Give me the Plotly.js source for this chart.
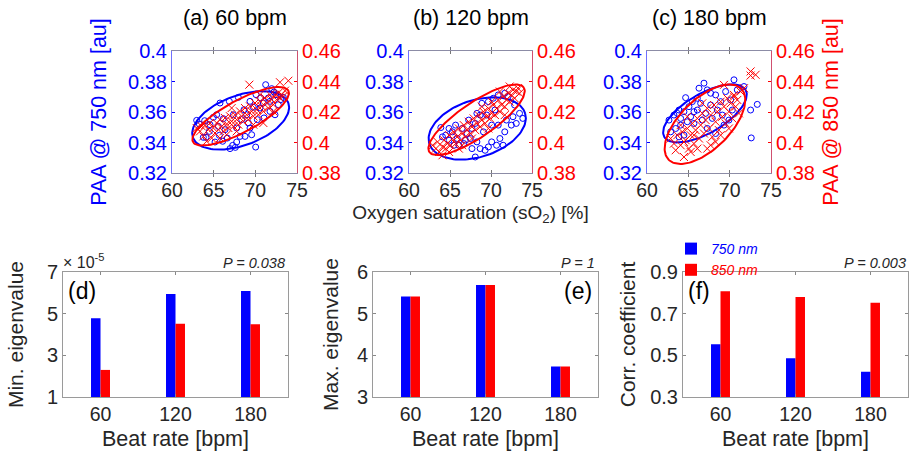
<!DOCTYPE html>
<html><head><meta charset="utf-8">
<script src="https://cdn.plot.ly/plotly-3.0.1.min.js"></script>
<style>html,body{margin:0;padding:0;background:#fff}#chart{width:911px;height:456px}</style>
</head><body><div id="chart"></div>
<script>
// ---------- top row: PAA vs sO2 scatter (a) 60 bpm, (b) 120 bpm, (c) 180 bpm ----------
const a750x = [62.96,63.92,64.96,65.76,66.88,67.96,69.36,70.08,71.24,71.96,72.48,73.04,73.36,71.56,69.76,70.24,68.76,67.76,67.28,66.96,67.6,70.04,69.56,66.64,66.08,65.68,64.48,64.08,65.16,66.36,67.76,68.36,68.96,70.56,71.76,72.36,71.04,69.36,63.76,63.28,65.36,66.16,67.36,68.64,70.64,71.76,72.24,64.56,65.56,68.16,69.16,70.96,72.76];
const a750y = [0.3545,0.3543,0.3565,0.3659,0.3670,0.3696,0.3670,0.3714,0.3779,0.3753,0.3714,0.3681,0.3696,0.3692,0.3631,0.3550,0.3440,0.3403,0.3381,0.3360,0.3368,0.3370,0.3451,0.3429,0.3408,0.3447,0.3473,0.3434,0.3403,0.3484,0.3495,0.3550,0.3582,0.3626,0.3604,0.3582,0.3561,0.3495,0.3434,0.3521,0.3582,0.3556,0.3582,0.3615,0.3692,0.3670,0.3731,0.3517,0.3506,0.3440,0.3528,0.3659,0.3648];
const a850x = [62.96,63.36,63.76,63.96,64.36,64.56,64.96,65.16,65.36,65.56,65.76,65.96,66.16,66.36,66.56,66.76,66.96,67.16,67.36,67.56,67.76,67.96,68.16,68.36,68.56,68.76,68.96,69.16,69.36,69.56,69.76,69.96,70.16,70.36,70.56,70.76,70.96,71.16,71.36,71.56,71.76,71.96,72.16,72.36,72.56,72.76,72.96,73.16,73.36,67.76,66.56,69.76,70.96,64.76,63.56,69.28,72.96,73.96,73.56,70.56,67.16,65.76,64.16,72.16];
const a850y = [0.4095,0.4073,0.4040,0.4113,0.4084,0.4128,0.4095,0.4062,0.4128,0.4084,0.4150,0.4106,0.4073,0.4161,0.4121,0.4095,0.4172,0.4139,0.4106,0.4182,0.4150,0.4117,0.4204,0.4172,0.4139,0.4226,0.4182,0.4150,0.4237,0.4204,0.4172,0.4259,0.4215,0.4182,0.4270,0.4237,0.4204,0.4292,0.4259,0.4226,0.4314,0.4281,0.4248,0.4314,0.4281,0.4325,0.4292,0.4314,0.4303,0.4073,0.4051,0.4117,0.4128,0.4029,0.4106,0.4379,0.4395,0.4405,0.4340,0.4314,0.4226,0.4029,0.4008,0.4204];

const b750x = [63.88,64.48,64.88,65.28,65.88,66.08,66.68,67.08,67.68,68.08,68.68,68.88,69.68,70.28,70.88,71.68,72.08,72.88,73.48,73.88,72.48,73.08,72.68,71.68,71.08,71.48,70.68,69.68,68.68,68.08,69.28,70.08,68.28,67.48,66.48,65.68,64.88,64.08,67.28,68.28,69.48,70.48,70.88,71.88,70.08,69.08,66.88,65.48,67.68];
const b750y = [0.3498,0.3448,0.3415,0.3470,0.3426,0.3382,0.3393,0.3459,0.3492,0.3525,0.3580,0.3657,0.3668,0.3690,0.3712,0.3723,0.3701,0.3646,0.3591,0.3558,0.3514,0.3525,0.3569,0.3470,0.3426,0.3382,0.3382,0.3371,0.3360,0.3305,0.3349,0.3404,0.3404,0.3426,0.3492,0.3514,0.3492,0.3437,0.3547,0.3591,0.3580,0.3613,0.3514,0.3547,0.3514,0.3470,0.3415,0.3382,0.3360];
const b850x = [62.88,63.28,63.48,63.68,64.08,64.28,64.48,64.68,64.88,65.08,65.28,65.48,65.68,65.88,66.08,66.28,66.48,66.68,66.88,67.08,67.28,67.48,67.68,67.88,68.08,68.28,68.48,68.68,68.88,69.08,69.28,69.48,69.68,69.88,70.08,70.28,70.48,70.68,70.88,71.08,71.28,71.48,71.68,71.88,72.08,72.28,72.48,72.68,72.88,73.08,73.28,73.48,71.68,70.08,68.88,67.68,66.48,64.88,64.08,66.08,69.68,72.28,71.08];
const b850y = [0.3982,0.3960,0.4004,0.3938,0.3971,0.4015,0.3960,0.3993,0.4048,0.3982,0.4026,0.4070,0.3993,0.4037,0.4092,0.4015,0.4059,0.4114,0.4037,0.4081,0.4136,0.4059,0.4103,0.4158,0.4081,0.4125,0.4180,0.4103,0.4147,0.4202,0.4125,0.4169,0.4224,0.4158,0.4191,0.4246,0.4180,0.4224,0.4279,0.4202,0.4246,0.4301,0.4235,0.4279,0.4323,0.4268,0.4312,0.4345,0.4290,0.4334,0.4356,0.4323,0.4180,0.4268,0.4235,0.4026,0.3982,0.3938,0.3916,0.3960,0.4092,0.4367,0.4334];

const c750x = [62.66,63.26,63.67,63.87,64.07,64.47,64.67,65.08,65.48,66.09,66.29,66.89,67.29,67.70,68.30,68.91,69.51,70.52,71.73,72.53,73.34,72.61,67.70,68.50,67.09,66.09,65.28,64.07,64.88,63.47,65.68,66.69,70.12,69.11,69.91,69.31,68.30,67.29,70.92,70.32,62.86,64.47,63.87,67.90,65.68,66.49];
const c750y = [0.3547,0.3580,0.3591,0.3613,0.3558,0.3602,0.3694,0.3635,0.3668,0.3690,0.3756,0.3789,0.3745,0.3723,0.3712,0.3668,0.3734,0.3811,0.3767,0.3613,0.3650,0.3430,0.3646,0.3613,0.3591,0.3613,0.3569,0.3514,0.3536,0.3492,0.3525,0.3547,0.3679,0.3580,0.3547,0.3514,0.3459,0.3492,0.3745,0.3613,0.3470,0.3448,0.3437,0.3558,0.3602,0.3657];
const c850x = [62.86,63.26,63.47,63.67,64.07,64.27,64.47,64.67,64.88,65.08,65.28,65.48,65.68,65.88,66.09,66.29,66.49,66.69,66.89,67.09,67.29,67.50,67.70,67.90,68.10,68.30,68.50,68.70,68.91,69.11,69.31,69.51,69.71,69.91,70.12,70.32,70.52,70.72,70.92,71.12,71.32,71.73,66.09,65.28,67.70,68.91,64.07,64.88,66.69,72.53,73.14,72.53,69.31,70.52,65.68,67.29,69.91,68.30,64.47];
const c850y = [0.4026,0.3993,0.3949,0.4048,0.3982,0.4070,0.3905,0.4015,0.4092,0.3960,0.4048,0.4125,0.3993,0.4081,0.4158,0.4026,0.4114,0.4191,0.4059,0.4147,0.4224,0.4092,0.4180,0.4037,0.4246,0.4136,0.4202,0.4081,0.4268,0.4169,0.4235,0.4125,0.4290,0.4202,0.4257,0.4158,0.4312,0.4235,0.4279,0.4191,0.4334,0.4356,0.3960,0.3938,0.3982,0.4048,0.4114,0.4169,0.4257,0.4466,0.4444,0.4439,0.4378,0.4301,0.4048,0.3960,0.4092,0.4004,0.4004];

// error ellipses: [centre x, centre y, half-axis 1 (dx, dy), half-axis 2 (dx, dy)]
const ellA750 = [68.24, 0.3545, 5.72, 0.01137, 1.03, -0.01541];
const ellA850 = [68.24, 0.4172, 5.72, 0.01683, 0.91, -0.00925];
const ellB750 = [68.32, 0.3492, 5.84, 0.0099, 1.00, -0.01786];
const ellB850 = [68.24, 0.4149, 5.76, 0.02112, 1.155, -0.00952];
const ellC750 = [67.01, 0.3591, 4.92, 0.0154, 1.18, -0.01126];
const ellC850 = [67.01, 0.4120, 4.40, 0.02323, 2.10, -0.01186];

// ---------- bottom row: bar charts ----------
const beatRates = ['60', '120', '180'];
const minEig750 = [4.78, 5.94, 6.09];   // x 10^-5
const minEig850 = [2.30, 4.52, 4.49];
const maxEig750 = [5.41, 5.69, 3.73];
const maxEig850 = [5.41, 5.69, 3.73];
const corr750 = [0.553, 0.486, 0.421];
const corr850 = [0.808, 0.780, 0.753];

const FONT = 'Liberation Sans, Arial, sans-serif';
const BLUE = '#0000ff', RED = '#ff0000', TXT = '#262626';
const W = 911, H = 456;

function ellipse(p) {
  const xs = [], ys = [];
  for (let i = 0; i <= 120; i++) {
    const t = 2 * Math.PI * i / 120;
    xs.push(p[0] + p[2] * Math.cos(t) + p[4] * Math.sin(t));
    ys.push(p[1] + p[3] * Math.cos(t) + p[5] * Math.sin(t));
  }
  return [xs, ys];
}

const traces = [];
function scatterPanel(xa, ya, ya2, bx, by, rx, ry, eb, er) {
  traces.push({type: 'scatter', mode: 'markers', x: bx, y: by, xaxis: xa, yaxis: ya, showlegend: false,
    marker: {symbol: 'circle-open', size: 6, color: BLUE, line: {width: 1, color: BLUE}}});
  const e1 = ellipse(eb);
  traces.push({type: 'scatter', mode: 'lines', x: e1[0], y: e1[1], xaxis: xa, yaxis: ya, showlegend: false,
    line: {color: BLUE, width: 2}});
  traces.push({type: 'scatter', mode: 'markers', x: rx, y: ry, xaxis: xa, yaxis: ya2, showlegend: false,
    marker: {symbol: 'x-thin-open', size: 8, color: RED, line: {width: 1, color: RED}}});
  const e2 = ellipse(er);
  traces.push({type: 'scatter', mode: 'lines', x: e2[0], y: e2[1], xaxis: xa, yaxis: ya2, showlegend: false,
    line: {color: RED, width: 2}});
}
scatterPanel('x', 'y', 'y2', a750x, a750y, a850x, a850y, ellA750, ellA850);
scatterPanel('x2', 'y3', 'y4', b750x, b750y, b850x, b850y, ellB750, ellB850);
scatterPanel('x3', 'y5', 'y6', c750x, c750y, c850x, c850y, ellC750, ellC850);

function barPanel(xa, ya, v1, v2, legend) {
  traces.push({type: 'bar', x: beatRates, y: v1, xaxis: xa, yaxis: ya, marker: {color: BLUE},
    name: '<i><span style="color:#0000ff">750 nm</span></i>', showlegend: legend});
  traces.push({type: 'bar', x: beatRates, y: v2, xaxis: xa, yaxis: ya, marker: {color: RED},
    name: '<i><span style="color:#ff0000">850 nm</span></i>', showlegend: legend});
}
barPanel('x4', 'y7', minEig750, minEig850, false);
barPanel('x5', 'y8', maxEig750, maxEig850, false);
barPanel('x6', 'y9', corr750, corr850, true);

const px = v => v / W, py = v => 1 - v / H;

function topX(x0, x1, yref, title) {
  const ax = {domain: [px(x0), px(x1)], anchor: yref, range: [60, 75], tickvals: [60, 65, 70, 75],
    ticks: 'inside', ticklen: 3, tickcolor: '#777', showline: true, linecolor: '#8c8ca6', linewidth: 1,
    mirror: 'allticks', showgrid: false, zeroline: false, tickfont: {size: 19.5, color: TXT, family: FONT}};
  if (title) ax.title = {text: title, font: {size: 19, color: TXT, family: FONT}, standoff: 5};
  return ax;
}
function topY(xref, left, title, standoff) {
  const col = left ? BLUE : RED;
  const ax = {domain: [py(173), py(51)], anchor: xref, range: left ? [0.32, 0.40] : [0.38, 0.46],
    tick0: left ? 0.32 : 0.38, dtick: 0.02, ticks: 'inside', ticklen: 3, tickcolor: col,
    showline: true, linecolor: left ? '#7070ff' : '#d05070', linewidth: 1, showgrid: false, zeroline: false,
    side: left ? 'left' : 'right', tickfont: {size: 20, color: col, family: FONT}};
  if (title) ax.title = {text: title, font: {size: 21.5, color: col, family: FONT}, standoff: standoff};
  return ax;
}
function botX(x0, x1, yref) {
  return {domain: [px(x0), px(x1)], anchor: yref, type: 'category', range: [-0.5, 2.5],
    ticks: 'inside', ticklen: 3, tickcolor: '#888', showline: true, linecolor: '#9a9a9a', linewidth: 1,
    mirror: 'allticks', showgrid: false, zeroline: false, tickfont: {size: 19.5, color: TXT, family: FONT},
    title: {text: 'Beat rate [bpm]', font: {size: 21.5, color: TXT, family: FONT}, standoff: 6}};
}
function botY(xref, range, tickvals, title, standoff) {
  return {domain: [py(397), py(272)], anchor: xref, range: range, tickvals: tickvals,
    ticks: 'inside', ticklen: 3, tickcolor: '#888', showline: true, linecolor: '#9a9a9a', linewidth: 1,
    mirror: 'allticks', showgrid: false, zeroline: false, tickfont: {size: 20, color: TXT, family: FONT},
    title: {text: title, font: {size: 21, color: TXT, family: FONT}, standoff: standoff}};
}

const ann = (text, x, y, xanchor, size, opts) => Object.assign({text: text, x: px(x), y: py(y), xref: 'paper', yref: 'paper',
  xanchor: xanchor, yanchor: 'middle', showarrow: false, font: {size: size, color: '#000', family: FONT}}, opts || {});

const layout = {
  width: W, height: H, margin: {l: 0, r: 0, t: 0, b: 0}, paper_bgcolor: '#fff', plot_bgcolor: '#fff',
  font: {family: FONT, color: TXT}, showlegend: true, barmode: 'group', bargap: 0.747, bargroupgap: 0,
  hovermode: false,
  xaxis: topX(172, 297, 'y'),
  yaxis: topY('x', true, 'PAA @ 750 nm [au]', 15),
  yaxis2: Object.assign(topY('x', false), {overlaying: 'y'}),
  xaxis2: topX(409, 532, 'y3', 'Oxygen saturation (sO<sub>2</sub>) [%]'),
  yaxis3: topY('x2', true),
  yaxis4: Object.assign(topY('x2', false), {overlaying: 'y3'}),
  xaxis3: topX(647, 771, 'y5'),
  yaxis5: topY('x3', true),
  yaxis6: Object.assign(topY('x3', false, 'PAA @ 850 nm [au]', 9), {overlaying: 'y5'}),
  xaxis4: botX(63, 288, 'y7'),
  yaxis7: botY('x4', [1, 7], [1, 3, 5, 7], 'Min. eigenvalue', 17),
  xaxis5: botX(373, 598, 'y8'),
  yaxis8: botY('x5', [3, 6], [3, 4, 5, 6], 'Max. eigenvalue', 12),
  xaxis6: botX(683, 908, 'y9'),
  yaxis9: botY('x6', [0.3, 0.9], [0.3, 0.5, 0.7, 0.9], 'Corr. coefficient', 8),
  legend: {x: px(671), y: py(233), xanchor: 'left', yanchor: 'top', bgcolor: 'rgba(0,0,0,0)',
    font: {size: 14, family: FONT}, tracegroupgap: 0, itemwidth: 30},
  annotations: [
    ann('(a) 60 bpm', 234.5, 18, 'center', 21.5),
    ann('(b) 120 bpm', 470.5, 18, 'center', 21.5),
    ann('(c) 180 bpm', 709, 18, 'center', 21.5),
    ann('× 10<sup>-5</sup>', 61, 261, 'left', 16, {font: {size: 16, color: TXT, family: FONT}}),
    ann('<i>P = 0.038</i>', 287, 263, 'right', 14.5, {font: {size: 14.5, color: TXT, family: FONT}}),
    ann('<i>P = 1</i>', 597, 263, 'right', 14.5, {font: {size: 14.5, color: TXT, family: FONT}}),
    ann('<i>P = 0.003</i>', 908, 263, 'right', 14.5, {font: {size: 14.5, color: TXT, family: FONT}}),
    ann('(d)', 66, 291, 'left', 23),
    ann('(e)', 594, 291, 'right', 23),
    ann('(f)', 686, 291, 'left', 23)
  ]
};

Plotly.newPlot('chart', traces, layout, {displayModeBar: false, staticPlot: true});
</script>
</body></html>
